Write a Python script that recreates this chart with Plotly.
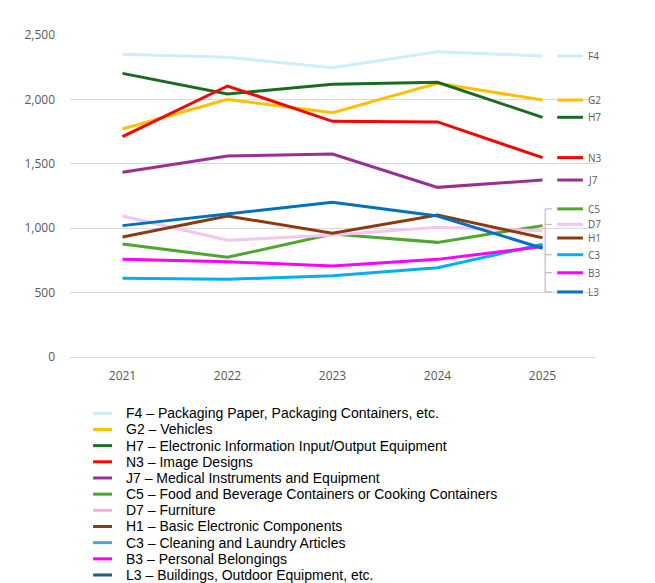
import plotly.graph_objects as go

years = ["2021", "2022", "2023", "2024", "2025"]

codes = ["F4", "G2", "H7", "N3", "J7", "C5", "D7", "H1", "C3", "B3", "L3"]
names = [
    "Packaging Paper, Packaging Containers, etc.",
    "Vehicles",
    "Electronic Information Input/Output Equipment",
    "Image Designs",
    "Medical Instruments and Equipment",
    "Food and Beverage Containers or Cooking Containers",
    "Furniture",
    "Basic Electronic Components",
    "Cleaning and Laundry Articles",
    "Personal Belongings",
    "Buildings, Outdoor Equipment, etc.",
]

F4 = [2350, 2327, 2246, 2370, 2337]
G2 = [1770, 2000, 1897, 2125, 1995]
H7 = [2202, 2042, 2117, 2133, 1861]
N3 = [1711, 2104, 1830, 1825, 1548]
J7 = [1434, 1561, 1576, 1317, 1374]
C5 = [877, 774, 955, 890, 1020]
D7 = [1095, 906, 947, 1007, 981]
H1 = [932, 1095, 960, 1102, 926]
C3 = [611, 603, 631, 693, 875]
B3 = [758, 740, 706, 758, 857]
L3 = [1020, 1108, 1201, 1095, 844]

series = [F4, G2, H7, N3, J7, C5, D7, H1, C3, B3, L3]

line_colors = ["#cdeefb", "#ffc000", "#1a6b1f", "#ff0000", "#9a2f93", "#4ea72e",
               "#f2c6ee", "#8b3a0f", "#00b0f0", "#ff00ff", "#0070c0"]
legend_colors = ["#c9eef8", "#ffc000", "#1e6b23", "#ff0000", "#9b2d96", "#4aa52e",
                 "#f0b0e0", "#8b3a14", "#45a8e0", "#ff00ff", "#1f5f80"]

# end labels of the crowded group are spread out and tied with a bracket
spread = {"C5": 1150, "D7": 1030, "H1": 924, "C3": 794, "B3": 654, "L3": 505}

fig = go.Figure()

for code, vals, col in zip(codes, series, line_colors):
    fig.add_trace(go.Scatter(x=years, y=vals, mode="lines", showlegend=False,
                             name=code, line=dict(color=col, width=3)))

tick_font = dict(size=12, color="#595959", family="Open Sans")
end_font = dict(size=10, color="#595959", family="Open Sans")
shapes = []
annots = []
for code, vals, col in zip(codes, series, line_colors):
    ly = spread.get(code, vals[-1])
    shapes.append(dict(type="line", xref="paper", yref="y", x0=0.928, x1=0.977,
                       y0=ly, y1=ly, line=dict(color=col, width=3)))
    annots.append(dict(xref="paper", yref="y", x=0.982, y=ly, text=code,
                       showarrow=False, xanchor="left", yanchor="middle",
                       font=end_font))

top, bottom = max(spread.values()), min(spread.values())
bracket = dict(color="#b0b0b0", width=1)
shapes.append(dict(type="line", xref="paper", yref="y", x0=0.905, x1=0.905,
                   y0=bottom, y1=top, line=bracket))
for code in ["C5", "D7", "C3", "B3", "L3"]:
    shapes.append(dict(type="line", xref="paper", yref="y", x0=0.905, x1=0.918,
                       y0=spread[code], y1=spread[code], line=bracket))

# legend below the plot, drawn by hand to keep its tight row spacing
plot_h = 322
for i, (code, name, col) in enumerate(zip(codes, names, legend_colors)):
    py = -(413.3 - 357 + i * 16.17) / plot_h
    shapes.append(dict(type="line", xref="paper", yref="paper", x0=0.044, x1=0.08,
                       y0=py, y1=py, line=dict(color=col, width=3)))
    annots.append(dict(xref="paper", yref="paper", x=0.102, y=py,
                       text=f"{code} \u2013 {name}", showarrow=False,
                       xanchor="left", yanchor="middle",
                       font=dict(family="Liberation Sans", size=14, color="#000000")))

# page body adds an 8px offset, so margins are shifted to compensate
fig.update_layout(
    width=655, height=583,
    margin=dict(l=62, r=68, t=27, b=234),
    plot_bgcolor="white", paper_bgcolor="white",
    showlegend=False,
    shapes=shapes, annotations=annots,
    xaxis=dict(type="category", range=[-0.5, 4.5], showgrid=False, showline=False,
               ticks="", ticklabelstandoff=10, tickfont=tick_font),
    yaxis=dict(range=[0, 2500], dtick=500, tickformat=",", showgrid=True,
               gridcolor="#d9d9d9", zeroline=True, zerolinecolor="#d9d9d9",
               zerolinewidth=1, ticks="", ticklabelstandoff=14,
               tickfont=tick_font),
)

fig.write_html("out.html")
